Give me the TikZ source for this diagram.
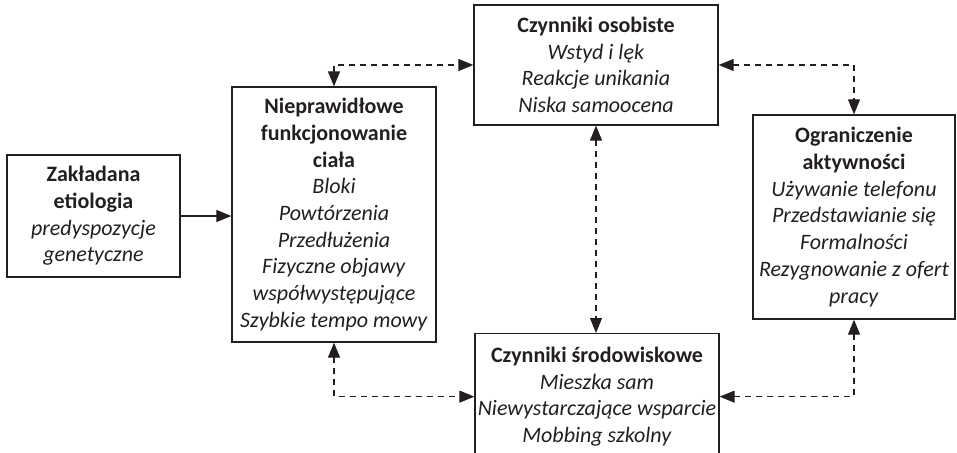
\documentclass[tikz,border=0pt]{standalone}
\usepackage{fontspec}
\setmainfont{Carlito}
\usetikzlibrary{arrows.meta,calc}
\definecolor{BoxClr}{RGB}{35,31,32}
\definecolor{LineClr}{RGB}{35,31,32}

\tikzset{
  blok/.style={draw=BoxClr,line width=1.3pt,align=center,inner sep=0pt,
    text=BoxClr,font=\fontsize{22}{26.7}\selectfont},
  grot/.style={line width=1.1pt,color=LineClr},
  solidarr/.style={grot,-{Triangle[length=15pt,width=12pt]}},
  dasharr/.style={grot,dash pattern=on 6pt off 5pt,
    {Triangle[length=15pt,width=12pt]}-{Triangle[length=15pt,width=12pt]}},
}

\begin{document}
\begin{tikzpicture}[x=1pt,y=-1pt]
\useasboundingbox (0,0) rectangle (957,452);
\clip (0,0) rectangle (957,452);

% boxes
\node[blok,minimum width=173pt,minimum height=122pt] (etiol) at (93.5,216)
  {\textbf{Zakładana}\\ \textbf{etiologia}\\ \textit{predyspozycje}\\ \textit{genetyczne}};
\node[blok,minimum width=204pt,minimum height=255pt] (cialo) at (334,214.5)
  {\textbf{Nieprawidłowe}\\ \textbf{funkcjonowanie}\\ \textbf{ciała}\\
   \textit{Bloki}\\ \textit{Powtórzenia}\\ \textit{Przedłużenia}\\
   \textit{Fizyczne objawy}\\ \textit{współwystępujące}\\ \textit{Szybkie tempo mowy}};
\node[blok,minimum width=244pt,minimum height=120pt] (osob) at (596,65)
  {\textbf{Czynniki osobiste}\\ \textit{Wstyd i lęk}\\ \textit{Reakcje unikania}\\ \textit{Niska samoocena}};
\node[blok,minimum width=244pt,minimum height=126pt,anchor=north] (srod) at (597,333)
  {\textbf{Czynniki środowiskowe}\\ \textit{Mieszka sam}\\ \textit{Niewystarczające wsparcie}\\ \textit{Mobbing szkolny}};
\node[blok,minimum width=202pt,minimum height=204pt] (ogran) at (854,217)
  {\textbf{Ograniczenie}\\ \textbf{aktywności}\\ \textit{Używanie telefonu}\\ \textit{Przedstawianie się}\\
   \textit{Formalności}\\ \textit{Rezygnowanie z ofert}\\ \textit{pracy}};

% connectors
\draw[solidarr] (etiol.east) -- (etiol.east -| cialo.west);
\draw[dasharr] (cialo.north) |- (osob.west);
\draw[dasharr] (osob.east) -| (ogran.north);
\draw[dasharr] (osob.south) -- (osob.south |- srod.north);
\draw[dasharr] (cialo.south) |- (srod.west);
\draw[dasharr] (ogran.south) |- (srod.east);

\end{tikzpicture}
\end{document}
